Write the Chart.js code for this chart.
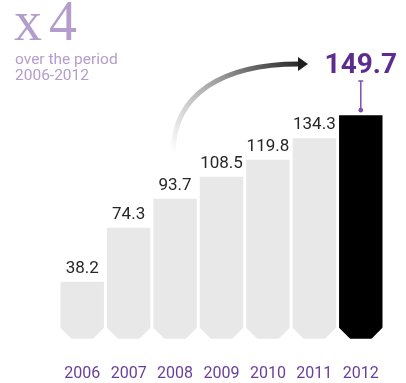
<!DOCTYPE html>
<html>
<head>
<meta charset="utf-8">
<script src="https://cdn.jsdelivr.net/npm/chart.js@4/dist/chart.umd.min.js"></script>
<style>
  html, body { margin: 0; padding: 0; background: #fff; }
  canvas { display: block; }
</style>
</head>
<body>
<canvas id="grafico" width="406" height="383"></canvas>
<script>
const anios = ["2006", "2007", "2008", "2009", "2010", "2011", "2012"];
const valores = [38.2, 74.3, 93.7, 108.5, 119.8, 134.3, 149.7];
const etiquetas = ["38.2", "74.3", "93.7", "108.5", "119.8", "134.3", "149.7"];
const titulo = ["x", "4"];
const subtitulo = ["over the period", "2006-2012"];

const gris = "#e8e8e8";
const morado = "#5c2c8e";
const moradoClaro = "#b39dcd";

// textos, flecha, esquinas recortadas
const decoracion = {
    id: "decoracion",
    afterDatasetsDraw(chart) {
        const ctx = chart.ctx;
        const x = chart.scales.x;
        const y = chart.scales.y;
        const barras = chart.getDatasetMeta(0).data;
        ctx.save();

        // esquinas inferiores recortadas
        ctx.fillStyle = "#fff";
        const c = 12;
        barras.forEach(b => {
            const izq = b.x - b.width / 2 - 0.5;
            const der = b.x + b.width / 2 + 0.5;
            const base = b.base + 0.5;
            ctx.beginPath();
            ctx.moveTo(izq, base - c);
            ctx.lineTo(izq + c, base);
            ctx.lineTo(izq, base);
            ctx.closePath();
            ctx.fill();
            ctx.beginPath();
            ctx.moveTo(der, base - c);
            ctx.lineTo(der - c, base);
            ctx.lineTo(der, base);
            ctx.closePath();
            ctx.fill();
        });

        // valores sobre las barras
        ctx.textAlign = "center";
        ctx.textBaseline = "alphabetic";
        ctx.font = "17px Roboto";
        ctx.fillStyle = "#262626";
        barras.forEach((b, i) => {
            if (i === barras.length - 1) return;
            ctx.fillText(etiquetas[i], b.x, b.y - 9);
        });

        // años
        ctx.font = "16px Roboto";
        ctx.fillStyle = "#6a3f99";
        anios.forEach((a, i) => {
            ctx.fillText(a, x.getPixelForValue(i), 378);
        });

        // último valor destacado
        const ult = barras[barras.length - 1];
        ctx.font = "bold 28px Roboto";
        ctx.fillStyle = morado;
        ctx.fillText(etiquetas[etiquetas.length - 1], ult.x, 73);
        ctx.strokeStyle = "#7b52a8";
        ctx.lineWidth = 1.5;
        ctx.beginPath();
        ctx.moveTo(ult.x, 81);
        ctx.lineTo(ult.x, ult.y - 5);
        ctx.moveTo(ult.x - 2.5, 81);
        ctx.lineTo(ult.x + 2.5, 81);
        ctx.stroke();
        ctx.fillStyle = "#7b52a8";
        ctx.beginPath();
        ctx.arc(ult.x, ult.y - 5, 2.3, 0, Math.PI * 2);
        ctx.fill();

        // flecha curva
        const x0 = x.getPixelForValue(2) - 2, y0 = y.getPixelForValue(124);
        const x1 = 299, y1 = y.getPixelForValue(184);
        const grad = ctx.createLinearGradient(x0, y0, x1, y1);
        grad.addColorStop(0, "rgba(255,255,255,1)");
        grad.addColorStop(0.5, "#a0a0a0");
        grad.addColorStop(1, "#2a2a2a");
        ctx.strokeStyle = grad;
        ctx.lineWidth = 5;
        ctx.lineCap = "butt";
        ctx.beginPath();
        ctx.moveTo(x0, y0);
        ctx.bezierCurveTo(x0, y0 - 60, x0 + 50, y1, x1, y1);
        ctx.stroke();
        ctx.fillStyle = "#1e1e1e";
        ctx.beginPath();
        ctx.moveTo(x1 - 1, y1 - 7);
        ctx.lineTo(x1 + 9, y1);
        ctx.lineTo(x1 - 1, y1 + 7);
        ctx.closePath();
        ctx.fill();

        // título
        ctx.textAlign = "left";
        ctx.fillStyle = moradoClaro;
        ctx.font = "56px 'Liberation Serif'";
        ctx.fillText(titulo[0], 14, 40);
        ctx.fillText(titulo[1], 49, 40);
        ctx.font = "15.5px Roboto";
        ctx.fillText(subtitulo[0], 15, 64);
        ctx.fillText(subtitulo[1], 15, 80);

        ctx.restore();
    }
};

new Chart(document.getElementById("grafico"), {
    type: "bar",
    data: {
        labels: anios,
        datasets: [
            {
                data: valores,
                backgroundColor: valores.map((v, i) => i === valores.length - 1 ? "#000" : gris),
                borderWidth: 0,
                categoryPercentage: 1,
                barPercentage: 0.936
            }
        ]
    },
    options: {
        responsive: false,
        animation: false,
        layout: { padding: { left: 59, right: 22, top: 40, bottom: 41 } },
        plugins: { legend: { display: false }, tooltip: { enabled: false } },
        scales: {
            x: { display: false },
            y: { display: false, min: -2.1, max: 200 }
        }
    },
    plugins: [decoracion]
});
</script>
</body>
</html>
